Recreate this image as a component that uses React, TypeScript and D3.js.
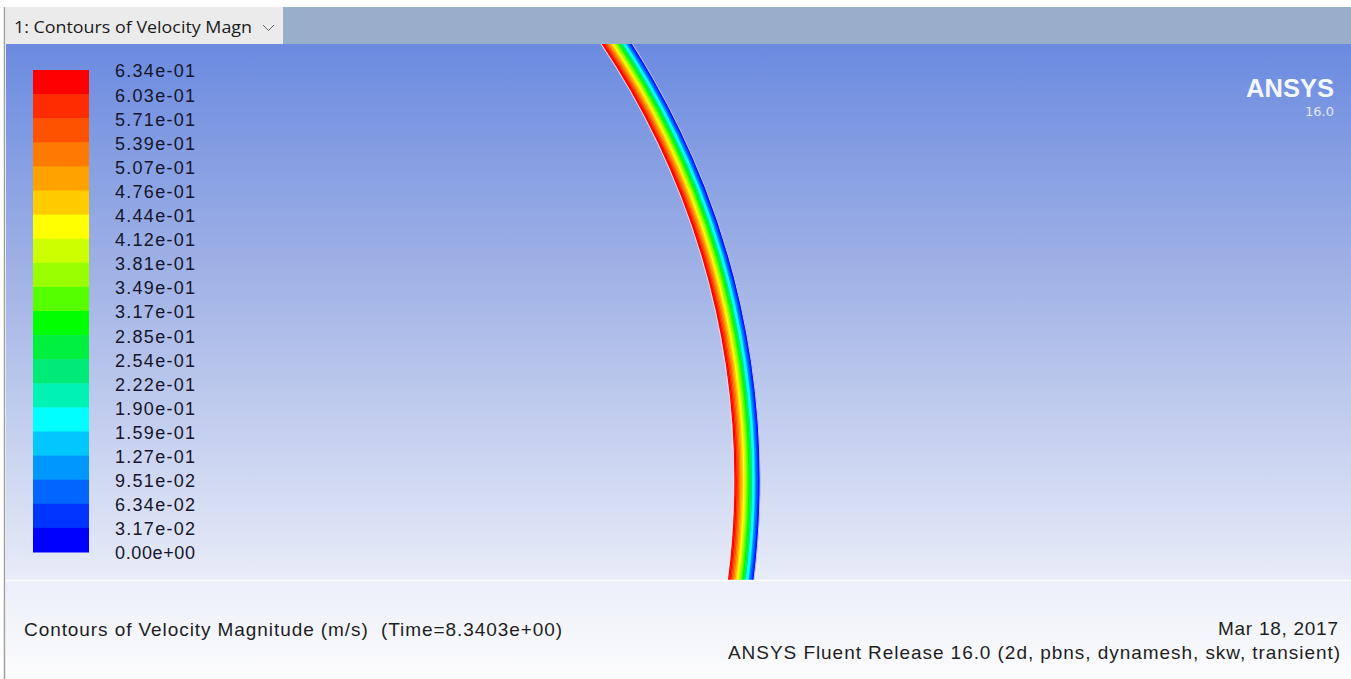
import React from 'react';
import * as d3 from 'd3';

const W = 1351;
const H = 679;

// Colour-bar levels (top to bottom)
const levelLabels = [
  '6.34e-01', '6.03e-01', '5.71e-01', '5.39e-01', '5.07e-01', '4.76e-01', '4.44e-01',
  '4.12e-01', '3.81e-01', '3.49e-01', '3.17e-01', '2.85e-01', '2.54e-01', '2.22e-01',
  '1.90e-01', '1.59e-01', '1.27e-01', '9.51e-02', '6.34e-02', '3.17e-02', '0.00e+00',
];
const levelValues = [
  0.634, 0.603, 0.571, 0.539, 0.507, 0.476, 0.444, 0.412, 0.381, 0.349, 0.317,
  0.285, 0.254, 0.222, 0.19, 0.159, 0.127, 0.0951, 0.0634, 0.0317, 0,
];
// Band colours, top (highest) to bottom (lowest)
const bandColors = [
  '#ff0000', '#ff2c00', '#ff5200', '#ff7a00', '#ffa200', '#ffcc00', '#ffff00',
  '#ccff00', '#99ff00', '#55ff00', '#00ff00', '#00f040', '#00ea78', '#00f2b4',
  '#00ffff', '#00c8ff', '#0098ff', '#0066ff', '#0034ff', '#0000ff',
];

// Velocity profile across the wall band, inner edge (0) to outer edge (1)
const profilePos = [0, 0.05, 0.1, 0.15, 0.2, 0.25, 0.3, 0.35, 0.4, 0.45, 0.5, 0.55, 0.6, 0.65, 0.7, 0.75, 0.8, 0.85, 0.9, 0.95];
const profileVel = [0.63, 0.61, 0.59, 0.56, 0.53, 0.5, 0.47, 0.44, 0.4, 0.36, 0.33, 0.3, 0.27, 0.23, 0.19, 0.16, 0.12, 0.08, 0.05, 0.02];

// Geometry of the curved wall in model units
const arcCenter = [-0.108, 0.2];
const arcInnerR = 1.564;
const arcThick = 0.052;
const arcAngles = [0.75, 1.95];

const titleText = 'Contours of Velocity Magnitude (m/s)  (Time=8.3403e+00)';
const dateText = 'Mar 18, 2017';
const releaseText = 'ANSYS Fluent Release 16.0 (2d, pbns, dynamesh, skw, transient)';
const tabText = '1: Contours of Velocity Magn';

const PLOT = { x0: 6, x1: W, y0: 44, y1: 580 };

export default function App() {
  const xS = d3.scaleLinear().domain([0, 2.69]).range([PLOT.x0, PLOT.x0 + 2.69 * 500]);
  const yS = d3.scaleLinear().domain([0, 1.072]).range([PLOT.y1, PLOT.y1 - 1.072 * 500]);
  const pxPerUnit = 500;

  const barTop = 70;
  const barBot = 552;
  const yBar = d3.scaleLinear().domain([0, levelValues.length - 1]).range([barTop, barBot]);
  const colorOf = d3
    .scaleQuantize<string>()
    .domain([0, 0.634])
    .range([...bandColors].reverse());

  const cx = xS(arcCenter[0]);
  const cy = yS(arcCenter[1]);
  const rIn = arcInnerR * pxPerUnit;
  const thick = arcThick * pxPerUnit;
  const rScale = d3.scaleLinear().domain([0, 1]).range([rIn, rIn + thick]);
  const step = profilePos[1] - profilePos[0];

  const arcGen = d3.arc<any>();
  const strips = profilePos.map((p, i) => ({
    d: arcGen({
      innerRadius: rScale(p),
      outerRadius: rScale(p + step) + 0.4,
      startAngle: arcAngles[0],
      endAngle: arcAngles[1],
    }) as string,
    fill: colorOf(profileVel[i]),
  }));
  const edgeIn = arcGen({ innerRadius: rScale(0) - 0.6, outerRadius: rScale(0) + 0.4, startAngle: arcAngles[0], endAngle: arcAngles[1] }) as string;
  const edgeOut = arcGen({ innerRadius: rScale(1) - 0.4, outerRadius: rScale(1) + 0.6, startAngle: arcAngles[0], endAngle: arcAngles[1] }) as string;

  const labelFont = '"Liberation Sans", Arial, sans-serif';

  return (
    <svg
      width={W}
      height={H}
      style={{ position: 'fixed', left: 0, top: 0, display: 'block' }}
      xmlns="http://www.w3.org/2000/svg"
    >
      <defs>
        <linearGradient id="bg" x1="0" y1="0" x2="0" y2="1">
          <stop offset="0" stopColor="#6b8be0" />
          <stop offset="0.45" stopColor="#a3b4e6" />
          <stop offset="1" stopColor="#e8ecf8" />
        </linearGradient>
        <linearGradient id="foot" x1="0" y1="0" x2="0" y2="1">
          <stop offset="0" stopColor="#eceff9" />
          <stop offset="1" stopColor="#fcfcfd" />
        </linearGradient>
        <clipPath id="plotClip">
          <rect x={PLOT.x0} y={PLOT.y0} width={PLOT.x1 - PLOT.x0} height={PLOT.y1 - PLOT.y0} />
        </clipPath>
      </defs>

      <rect x={0} y={0} width={W} height={H} fill="#ffffff" />
      {/* top bar */}
      <rect x={PLOT.x0} y={7} width={W - PLOT.x0} height={37} fill="#98afcb" />
      <rect x={PLOT.x0} y={7} width={277} height={37} fill="#ebebeb" />
      <text
        x={14}
        y={33}
        fontFamily='"Open Sans", "Noto Sans", sans-serif'
        fontSize={16.5}
        fill="#1a1a1a"
        textLength={238}
        lengthAdjust="spacingAndGlyphs"
      >
        {tabText}
      </text>
      <polyline points="263,25 268.5,30.5 274,25" fill="none" stroke="#666" strokeWidth={1} />

      {/* plot area */}
      <rect x={PLOT.x0} y={PLOT.y0} width={PLOT.x1 - PLOT.x0} height={PLOT.y1 - PLOT.y0} fill="url(#bg)" />

      <g clipPath="url(#plotClip)">
        <g transform={`translate(${cx},${cy})`}>
          {strips.map((s, i) => (
            <path key={i} d={s.d} fill={s.fill} />
          ))}
          <path d={edgeIn} fill="#ffffff" opacity={0.75} />
          <path d={edgeOut} fill="#ffffff" opacity={0.75} />
        </g>
      </g>

      {/* colour bar */}
      <g>
        {bandColors.map((c, i) => (
          <rect key={i} x={33} y={yBar(i)} width={56} height={yBar(i + 1) - yBar(i) + 0.5} fill={c} />
        ))}
        {levelLabels.map((t, i) => (
          <text
            key={t}
            x={115}
            y={yBar(i) + 1}
            dy="0.36em"
            fontFamily={labelFont}
            fontSize={18}
            fill="#15152a"
            textLength={80}
            lengthAdjust="spacing"
          >
            {t}
          </text>
        ))}
      </g>

      {/* ANSYS logo */}
      <text x={1334} y={97} textAnchor="end" fontFamily={labelFont} fontWeight="bold" fontSize={26} fill="#f4f7ff" textLength={88} lengthAdjust="spacingAndGlyphs">
        ANSYS
      </text>
      <text x={1334} y={116} textAnchor="end" fontFamily='"DejaVu Sans", "Noto Sans", sans-serif' fontSize={13} fill="#e2e8f8">
        16.0
      </text>

      {/* footer */}
      <rect x={PLOT.x0} y={PLOT.y1} width={W - PLOT.x0} height={H - PLOT.y1} fill="url(#foot)" />
      <line x1={PLOT.x0} x2={W} y1={PLOT.y1 + 0.5} y2={PLOT.y1 + 0.5} stroke="#ffffff" strokeWidth={1.5} />
      <text
        x={24}
        y={636}
        fontFamily={labelFont}
        fontSize={19}
        fill="#1e1e1e"
        textLength={538}
        lengthAdjust="spacing"
        style={{ whiteSpace: 'pre' }}
      >
        {titleText}
      </text>
      <text
        x={1338}
        y={635}
        textAnchor="end"
        fontFamily={labelFont}
        fontSize={19}
        fill="#1e1e1e"
        textLength={120}
        lengthAdjust="spacing"
      >
        {dateText}
      </text>
      <text
        x={1340}
        y={659}
        textAnchor="end"
        fontFamily={labelFont}
        fontSize={19}
        fill="#1e1e1e"
        textLength={612}
        lengthAdjust="spacing"
      >
        {releaseText}
      </text>

      {/* left frame line */}
      <line x1={4.5} x2={4.5} y1={7} y2={H} stroke="#a0a0a0" strokeWidth={1.5} />
    </svg>
  );
}
